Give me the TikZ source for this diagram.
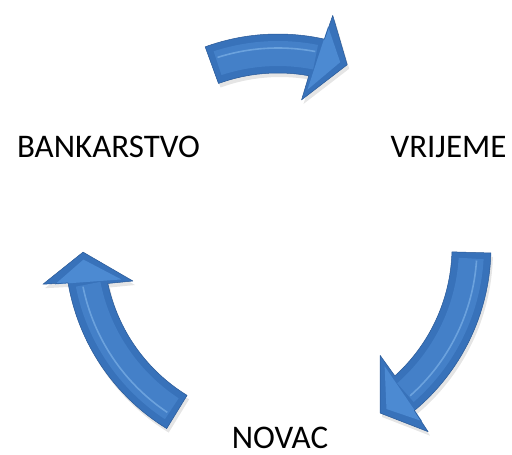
\documentclass[tikz,border=0pt]{standalone}
\usepackage{fontspec}
\setmainfont{Carlito}
\definecolor{arrbase}{RGB}{56,114,186}
\definecolor{arrface}{RGB}{68,128,200}
\definecolor{arrhead}{RGB}{76,138,210}
\definecolor{arrhi}{RGB}{140,190,240}
\definecolor{arredge}{RGB}{40,88,150}
\newcommand\cyArrowPath{(\cyTs:174) arc[start angle=\cyTs, end angle=\cyAi, radius=174] -- (\cyHi:149) -- (\cyTt:195) -- (\cyHo:238) -- (\cyAo:213) arc[start angle=\cyAo, end angle=\cyTs, radius=213] -- cycle}
\newcommand\cyArrow[2]{%
  \pgfmathsetmacro\cyTs{#1}\pgfmathsetmacro\cyTt{#2}%
  \pgfmathsetmacro\cyAi{\cyTt+10.6}\pgfmathsetmacro\cyAo{\cyTt+8.2}%
  \pgfmathsetmacro\cyHi{\cyTt+11.7}\pgfmathsetmacro\cyHo{\cyTt+7.5}%
  \pgfmathsetmacro\cyFs{\cyTs-1.8}\pgfmathsetmacro\cyFe{\cyTt+9.6}%
  \fill[shadowfill] [shift={(2,-4)}] \cyArrowPath;
  \fill[arrowbody] \cyArrowPath;
  \fill[arrowface] (\cyFs:181) arc[start angle=\cyFs, end angle=\cyFe, radius=181] -- (\cyFe:206) arc[start angle=\cyFe, end angle=\cyFs, radius=206] -- cycle;
  \fill[arrowhead] (\cyTt+10.2:160) -- (\cyTt+2.2:195) -- (\cyTt+8.0:226) -- cycle;
  \draw[arrowhl] (\cyFs-0.5:199) arc[start angle=\cyFs-0.5, end angle=\cyFe+0.4, radius=199];
  \draw[arrowedge] \cyArrowPath;
}
\begin{document}
\begin{tikzpicture}[x=1pt,y=1pt,
  shadowfill/.style={fill=black, opacity=0.10},
  arrowbody/.style={fill=arrbase},
  arrowface/.style={fill=arrface},
  arrowhead/.style={fill=arrhead},
  arrowhl/.style={draw=arrhi, line width=1.6pt, opacity=0.55},
  arrowedge/.style={draw=arredge, line width=0.5pt, line join=round},
  lbl/.style={font=\fontsize{33}{40}\selectfont, anchor=base, inner sep=0pt, text=black}]
\useasboundingbox (-278,-208) rectangle (234,247);
\cyArrow{110}{69.2}
\cyArrow{-1.6}{-58.4}
\cyArrow{238.5}{181.5}
\node[lbl] (bank) at (-169.5,89) {BANKARSTVO};
\node[lbl] (vrij) at (170.5,89) {VRIJEME};
\node[lbl] (novac) at (2,-201) {NOVAC};
\end{tikzpicture}
\end{document}
